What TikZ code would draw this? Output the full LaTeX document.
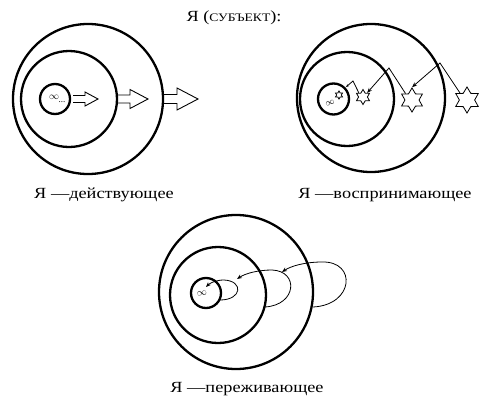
\documentclass[tikz,border=0pt]{standalone}
\usepackage{fontspec}
\setmainfont{Liberation Serif}
\newfontfamily\capfont[FakeStretch=1.18]{Liberation Serif}
\usetikzlibrary{shapes.geometric,arrows.meta}
\tikzset{
  ring/.style={draw,line width=2.3pt},
  thinline/.style={line width=0.8pt},
  blockarr/.style={draw,line width=0.9pt,line join=miter},
  starnode/.style={draw,line width=0.8pt,star,star points=6,star point ratio=1.7,inner sep=0pt,minimum size=#1},
  arrtip/.style={-{Stealth[length=5pt,width=4pt]}},
  captext/.style={anchor=base,inner sep=0pt,font=\capfont\fontsize{15.5}{18}\selectfont},
}
\begin{document}
\begin{tikzpicture}[x=1pt,y=-1pt]
\useasboundingbox (0,0) rectangle (482,399);
% title
\node[anchor=base,inner sep=0pt,font=\capfont\fontsize{15.5}{18}\selectfont] (title) at (234,21) {Я ({\fontsize{11.5}{13}\selectfont СУБЪЕКТ}):};
% ---------- figure 1 ----------
\draw[ring] (88,99) circle (75);
\draw[ring] (69,99) circle (48);
\draw[ring] (55,99) circle (15);
\node[inner sep=0pt,font=\fontsize{10}{10}\selectfont] (inf1) at (54,97) {$\infty$};
\node[inner sep=0pt,font=\fontsize{9}{9}\selectfont] (dots1) at (62,102) {...};
\draw[blockarr] (73,95.5) -- (85,95.5) -- (85,92) -- (98,99) -- (85,106) -- (85,102.5) -- (73,102.5);
\draw[blockarr] (117,95) -- (130,95) -- (130,89.5) -- (148,99) -- (130,108.5) -- (130,103) -- (117,103);
\draw[blockarr] (163,94.5) -- (177,94.5) -- (177,88) -- (198,99) -- (177,110) -- (177,103.5) -- (163,103.5);
\node[captext] (cap1) at (104,198) {Я —действующее};
% ---------- figure 2 ----------
\draw[ring] (371,98) circle (74);
\draw[ring] (347,99) circle (47);
\draw[ring] (333.5,99) circle (15.5);
\node[starnode=8pt] (s0) at (339,95) {};
\node[inner sep=0pt,rotate=20,font=\fontsize{9}{9}\selectfont] (inf2) at (330,103) {$\infty$};
\node[starnode=15pt] (s1) at (363,97) {};
\node[starnode=24pt] (s2) at (412,100) {};
\node[starnode=26pt] (s3) at (467,100) {};
\coordinate (p1) at (353,81);
\coordinate (p2) at (389,68);
\coordinate (p3) at (440,63);
\coordinate (e1) at (346,87);
\draw[thinline,-{Stealth[length=3pt,width=2.5pt]}] (s1.north west) -- (p1) -- (e1);
\draw[thinline,arrtip] (s2.north west) -- (p2) -- (s1.north east);
\draw[thinline,arrtip] (s3.north west) -- (p3) -- (s2.north);
\node[captext] (cap2) at (385,198) {Я —воспринимающее};
% ---------- figure 3 ----------
\draw[ring] (236,292) circle (77);
\draw[ring] (218,295) circle (48);
\draw[ring] (206,293) circle (15);
\node[inner sep=0pt,rotate=10,font=\fontsize{10}{10}\selectfont] (inf3) at (202,294) {$\infty$};
\coordinate (a1) at (220,300);
\coordinate (a2) at (265,307);
\coordinate (a3) at (313,307);
\draw[thinline,arrtip] (a1) .. controls (242,300) and (244,281) .. (224,280) .. controls (216,280) and (210,283) .. (206,287);
\draw[thinline,arrtip] (a2) .. controls (297,305) and (299,271) .. (272,270) .. controls (259,270) and (246,273) .. (237,279);
\draw[thinline,arrtip] (a3) .. controls (354,305) and (357,261) .. (322,262) .. controls (305,262) and (291,266) .. (282,272);
\node[captext] (cap3) at (247,392) {Я —переживающее};
\end{tikzpicture}
\end{document}
